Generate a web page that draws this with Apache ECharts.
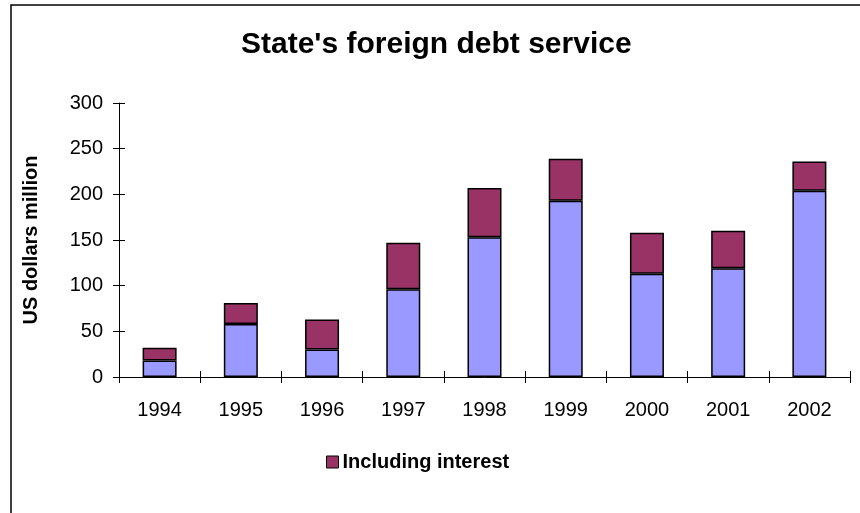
<!DOCTYPE html>
<html>
<head>
<meta charset="utf-8">
<script src="https://cdn.jsdelivr.net/npm/echarts@6/dist/echarts.min.js"></script>
<style>html,body{margin:0;padding:0;background:#fff;}#c{width:860px;height:513px;}</style>
</head>
<body>
<div id="c"></div>
<script>
const years = ['1994','1995','1996','1997','1998','1999','2000','2001','2002'];
const principal = [18, 58, 30, 96, 153, 193, 113, 119, 204];
const interest = [14, 23, 33, 51, 54, 46, 45, 41, 32];
const yTicks = [0, 50, 100, 150, 200, 250, 300];

const chart = echarts.init(document.getElementById('c'), null, {renderer: 'canvas'});
const font = 'Arial, "Liberation Sans", sans-serif';
const grid = {left: 119, right: 10, top: 103, bottom: 136};
chart.setOption({
  animation: false,
  backgroundColor: '#fff',
  title: {
    text: "State's foreign debt service",
    left: 241,
    top: 30,
    padding: 0,
    textStyle: {fontFamily: font, fontSize: 30, fontWeight: 'bold', color: '#000'}
  },
  legend: {
    data: [{name: 'Including interest', icon: 'rect'}],
    left: 326,
    top: 452,
    padding: 0,
    itemWidth: 12,
    itemHeight: 12,
    itemGap: 4,
    itemStyle: {borderColor: '#000', borderWidth: 1},
    textStyle: {fontFamily: font, fontSize: 20, fontWeight: 'bold', color: '#000', padding: [0,0,0,-1]}
  },
  grid: grid,
  xAxis: [{
    type: 'category',
    data: years,
    axisLine: {lineStyle: {color: '#000', width: 1}},
    axisTick: {show: true, length: 6, lineStyle: {color: '#000'}},
    axisLabel: {fontFamily: font, fontSize: 20, color: '#000', margin: 23},
    splitLine: {show: false}
  }, {
    type: 'category',
    data: years,
    position: 'bottom',
    axisLine: {show: false},
    axisTick: {show: true, inside: true, length: 6, lineStyle: {color: '#000'}},
    axisLabel: {show: false}
  }],
  yAxis: [{
    type: 'value',
    min: 0, max: 300, interval: 50,
    name: 'US dollars million',
    nameLocation: 'middle',
    nameGap: 78,
    nameTextStyle: {fontFamily: font, fontSize: 20, fontWeight: 'bold', color: '#000'},
    axisLine: {show: true, lineStyle: {color: '#000', width: 1}},
    axisTick: {show: true, length: 6, lineStyle: {color: '#000'}},
    axisLabel: {fontFamily: font, fontSize: 20, color: '#000', margin: 16,
      formatter: v => yTicks.includes(v) ? String(v) : ''},
    splitLine: {show: false}
  }, {
    type: 'value',
    min: 0, max: 300, interval: 50,
    position: 'left',
    axisLine: {show: false},
    axisTick: {show: true, inside: true, length: 6, lineStyle: {color: '#000'}},
    axisLabel: {show: false},
    splitLine: {show: false}
  }],
  series: [{
    name: 'Principal',
    type: 'bar',
    stack: 'debt',
    data: principal,
    barWidth: 34,
    itemStyle: {color: '#9999FF', borderColor: '#000', borderWidth: 1.5}
  }, {
    name: 'Including interest',
    type: 'bar',
    stack: 'debt',
    data: interest,
    barWidth: 34,
    itemStyle: {color: '#993366', borderColor: '#000', borderWidth: 1.5}
  }],
  graphic: [{
    type: 'rect',
    shape: {x: 11, y: 5, width: 900, height: 600},
    style: {fill: 'none', stroke: '#000', lineWidth: 1.5},
    silent: true
  }]
});
</script>
</body>
</html>
